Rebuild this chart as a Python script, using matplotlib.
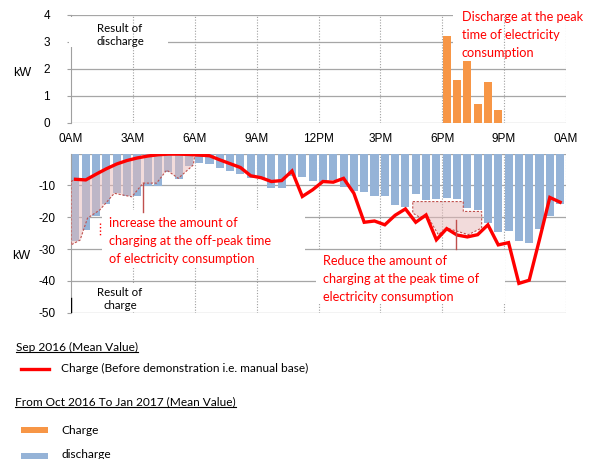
import numpy as np
import matplotlib.pyplot as plt
from matplotlib.patches import Polygon, Rectangle
from matplotlib.lines import Line2D

W, H = 594, 459

hour_ticks = [0, 3, 6, 9, 12, 15, 18, 21, 24]
hour_labels = ["0AM", "3AM", "6AM", "9AM", "12PM", "3PM", "6PM", "9PM", "0AM"]

# half-hour slots 0:00 ... 23:30
slots = np.arange(48) * 0.5

# Oct 2016 - Jan 2017 mean, discharge (kW)
discharge = [0, 0, 0, 0, 0, 0, 0, 0, 0, 0, 0, 0,
             0, 0, 0, 0, 0, 0, 0, 0, 0, 0, 0, 0,
             0, 0, 0, 0, 0, 0, 0, 0, 0, 0, 0, 0,
             3.22, 1.59, 2.31, 0.70, 1.52, 0.48, 0, 0, 0, 0, 0, 0]

# Oct 2016 - Jan 2017 mean, charge (kW)
charge_after = [-27.5, -24.0, -19.5, -16.0, -12.5, -13.5, -13.5, -10.3, -10.3, -5.8, -8.0, -4.0,
                -3.1, -3.4, -4.6, -5.5, -6.5, -7.6, -7.8, -10.7, -10.7, -7.0, -7.3, -8.6,
                -8.8, -8.3, -10.4, -11.8, -12.0, -13.2, -13.2, -16.1, -16.7, -12.8, -14.6, -14.3,
                -14.0, -14.4, -17.2, -17.7, -21.9, -24.7, -24.3, -27.6, -28.2, -23.7, -19.5, -15.9]

# Sep 2016 mean, charge before demonstration (kW)
charge_before = [-8.1, -8.3, -6.5, -4.8, -3.3, -2.2, -1.4, -0.8, -0.4, -0.2, -0.2, -0.3,
                 -0.5, -0.7, -2.0, -3.2, -4.4, -7.0, -7.6, -8.8, -8.5, -5.5, -13.5, -11.4,
                 -8.8, -9.0, -7.8, -12.5, -21.6, -21.2, -22.4, -19.4, -17.4, -21.6, -19.3, -27.1,
                 -23.6, -25.6, -26.2, -25.5, -22.4, -28.7, -28.0, -40.8, -39.8, -27.0, -13.8, -15.3]

# outlines of the shaded "shift" areas (hour, kW)
offpeak_lower = [(6.0, -0.5), (5.93, -3.6), (5.2, -7.8), (4.64, -5.2), (4.15, -9.3), (3.5, -9.3),
                 (2.95, -13.6), (2.1, -12.5), (1.4, -17.7), (0.8, -20.3), (0.44, -27.2), (0.0, -28.7)]
peak_area = [(16.57, -15.1), (19.02, -15.1), (19.02, -18.2), (19.91, -18.2), (19.91, -23.4),
             (19.26, -25.5), (18.22, -23.4), (17.81, -25.5), (17.25, -19.3), (16.92, -20.1),
             (16.57, -18.7)]

BLUE = "#95B3D7"
ORANGE = "#F79646"
RED = "#FF0000"
GRID = "#A6A6A6"
PINK = "#E6B9B8"
DARKRED = "#C0504D"
TICKFONT = "Liberation Sans"
TXTFONT = "Lato"


def fx(x):
    return x / W


def fy(y):
    return 1 - y / H


fig = plt.figure(figsize=(W / 100, H / 100), dpi=100)
ax1 = fig.add_axes([fx(71), fy(123), 495 / W, 108 / H])
ax2 = fig.add_axes([fx(71), fy(312.7), 495 / W, 159.2 / H])

for ax in (ax1, ax2):
    ax.set_xlim(0, 24)
    ax.set_facecolor("none")
    for s in ("top", "right", "bottom"):
        ax.spines[s].set_visible(False)
    ax.spines["left"].set_color("#A0A0A0")
    ax.spines["left"].set_linewidth(0.8)
    ax.tick_params(axis="y", length=3, color="#A0A0A0", labelsize=8.5)
    for h in hour_ticks[1:]:
        ax.axvline(h, color="#A0A0A0", lw=0.8, ls=(0, (1, 1.5)), zorder=5 if ax is ax1 else 1)

# ---- top panel: discharge
ax1.set_ylim(0, 4)
ax1.set_yticks([0, 1, 2, 3, 4])
ax1.set_yticklabels(["0", "1", "2", "3", "4"], fontfamily=TICKFONT)
ax1.tick_params(axis="y", pad=12)
ax1.set_xticks(hour_ticks)
ax1.set_xticklabels(hour_labels, fontfamily=TICKFONT, fontsize=8.5)
ax1.tick_params(axis="x", length=0, pad=7)
for v in [0, 1, 2, 3, 4]:
    ax1.axhline(v, color=GRID, lw=0.9, zorder=0.5)
ax1.bar(slots + 0.02, discharge, width=0.39, align="edge", color=ORANGE, zorder=2)

# ---- bottom panel: charge
ax2.set_ylim(-50, 0)
ax2.set_yticks([-50, -40, -30, -20, -10])
ax2.set_yticklabels(["-50", "-40", "-30", "-20", "-10"], fontfamily=TICKFONT)
ax2.tick_params(axis="y", pad=8)
ax2.set_xticks([])
for v in [-50, -40, -30, -20, -10, 0]:
    ax2.axhline(v, color=GRID, lw=0.9, zorder=0.5)
ax2.bar(slots + 0.02, charge_after, width=0.39, align="edge", color=BLUE, zorder=2)

line_x = slots + 0.215
upper = [(0.0, -8.8)] + list(zip(line_x[:12], charge_before[:12])) + [(6.0, -0.3)]
ax2.add_patch(Polygon(upper + offpeak_lower, closed=True, fc=PINK, alpha=0.5, ec="none", zorder=3))
ax2.add_patch(Polygon(upper + offpeak_lower, closed=True, fill=False, ec=DARKRED,
                      lw=0.8, ls=(0, (2, 1.5)), zorder=3))
ax2.add_patch(Polygon(peak_area, closed=True, fc=PINK, alpha=0.5, ec="none", zorder=3))
ax2.add_patch(Polygon(peak_area, closed=True, fill=False, ec=DARKRED,
                      lw=0.8, ls=(0, (2, 1.5)), zorder=3))
ax2.plot(line_x, charge_before, color=RED, lw=2.4, zorder=4, solid_joinstyle="miter")

# pointer lines
ax2.plot([3.51, 3.51], [-9.3, -18.3], color=DARKRED, lw=1, zorder=4)
ax2.plot([18.67, 18.67], [-20.8, -30], color=DARKRED, lw=1, zorder=4)
ax2.plot([1.4, 1.4], [-21.8, -25.5], color=RED, lw=1, ls=(0, (1, 1.5)), zorder=4)
ax2.plot([0.02, 0.02], [-45.5, -49.8], color="black", lw=1, zorder=4)


def wbox(ax, x0, y0, x1, y1):
    ax.add_patch(Rectangle((fx(x0), fy(y1)), (x1 - x0) / W, (y1 - y0) / H,
                           transform=fig.transFigure, fc="white", ec="none", zorder=3,
                           clip_on=False))


def note(ax, x, y, s, color="black", ha="left", size=9.2, ls=1.6):
    ax.text(fx(x), fy(y), s, transform=fig.transFigure, ha=ha, va="center",
            color=color, fontsize=size, fontfamily=TXTFONT, linespacing=ls,
            zorder=6, clip_on=False)


wbox(ax1, 69, 17, 168, 47)
note(ax1, 120, 35, "Result of\ndischarge", ha="center", size=8.3, ls=1.3)
wbox(ax1, 453, 3, 594, 59)
note(ax1, 462, 35, "Discharge at the peak\ntime of electricity\nconsumption", color=RED)

wbox(ax2, 102, 210, 305, 268)
note(ax2, 109, 241, "increase the amount of\ncharging at the off-peak time\nof electricity consumption", color=RED)
wbox(ax2, 316, 251, 505, 303)
note(ax2, 323, 279, "Reduce the amount of\ncharging at the peak time of\nelectricity consumption", color=RED)
wbox(ax2, 92, 283, 150, 311)
note(ax2, 120, 299, "Result of\ncharge", ha="center", size=8.3, ls=1.3)

fig.text(fx(22), fy(73), "kW", fontfamily=TICKFONT, fontsize=9, va="center", ha="center")
fig.text(fx(21), fy(256), "kW", fontfamily=TICKFONT, fontsize=9, va="center", ha="center")

# ---- legend block
LEG = 8.6
t1 = fig.text(fx(16), fy(347), "Sep 2016 (Mean Value)", fontfamily=TXTFONT, fontsize=LEG, va="center")
fig.add_artist(Line2D([fx(21), fx(49)], [fy(369), fy(369)], color=RED, lw=2.4))
fig.text(fx(61), fy(368), "Charge (Before demonstration i.e. manual base)", fontfamily=TXTFONT,
         fontsize=LEG, va="center")
t2 = fig.text(fx(15), fy(402), "From Oct 2016 To Jan 2017 (Mean Value)", fontfamily=TXTFONT,
              fontsize=LEG, va="center")
fig.add_artist(Rectangle((fx(21), fy(433)), 27 / W, 6 / H, transform=fig.transFigure, fc=ORANGE, ec="none"))
fig.text(fx(61), fy(430), "Charge", fontfamily=TXTFONT, fontsize=LEG, va="center")
fig.add_artist(Rectangle((fx(21), fy(459)), 27 / W, 6 / H, transform=fig.transFigure, fc=BLUE, ec="none"))
fig.text(fx(61), fy(454), "discharge", fontfamily=TXTFONT, fontsize=LEG, va="center")

fig.canvas.draw()
for t in (t1, t2):
    bb = t.get_window_extent()
    y = (bb.y0 + 0.5) / H
    fig.add_artist(Line2D([bb.x0 / W, bb.x1 / W], [y, y], color="black", lw=0.8))

fig.savefig("out.png", dpi=100)
